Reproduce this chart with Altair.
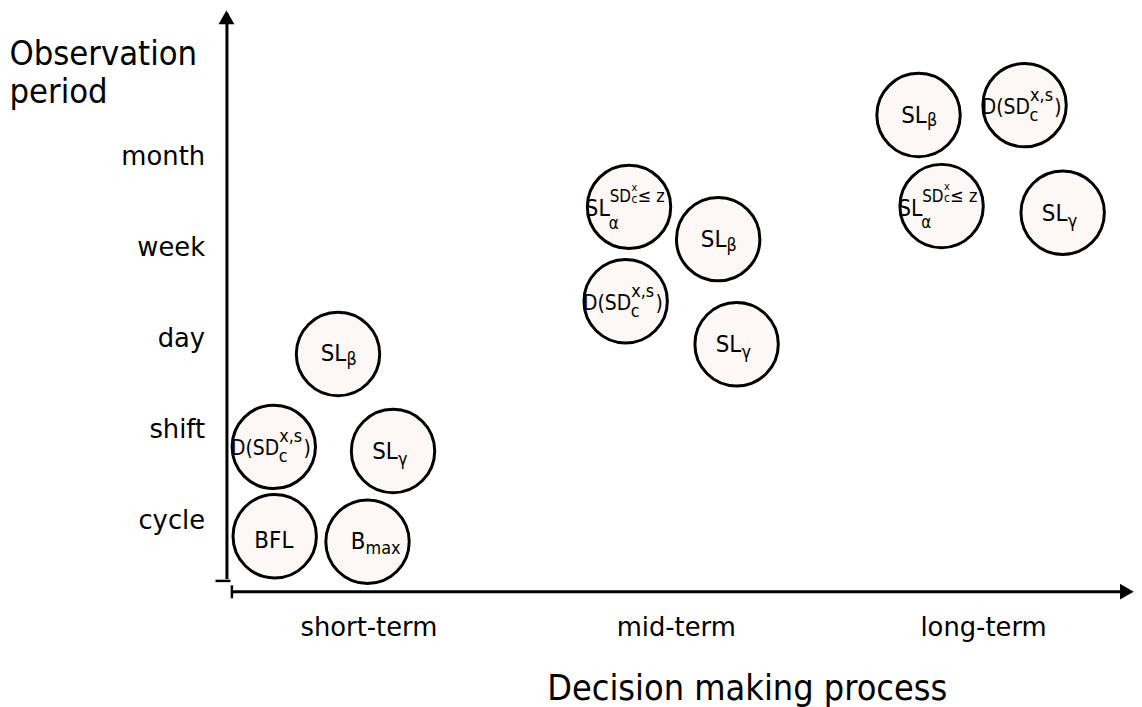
import json
import altair as alt
import pandas as pd

# ---------------- data ----------------
PERIODS = ["cycle", "shift", "day", "week", "month"]          # y categories (0..4)
HORIZONS = ["short-term", "mid-term", "long-term"]             # x categories (0..2)

GROUP = ["short-term"] * 5 + ["mid-term"] * 4 + ["long-term"] * 4
LABEL = [
    "SL_β", "D(SD_c^x,s)", "SL_γ", "BFL", "B_max",
    "SL_α^(SD_c^x≤z)", "SL_β", "D(SD_c^x,s)", "SL_γ",
    "SL_β", "D(SD_c^x,s)", "SL_α^(SD_c^x≤z)", "SL_γ",
]
# position along the decision-horizon axis (0 = short, 1 = mid, 2 = long)
HORIZON_POS = [-0.099, -0.308, 0.080, -0.305, -0.003,
               0.848, 1.138, 0.837, 1.198,
               1.790, 2.135, 1.865, 2.259]
# position along the observation-period axis (0 = cycle ... 4 = month)
PERIOD_POS = [1.831, 0.812, 0.766, -0.169, -0.229,
              3.446, 3.092, 2.411, 1.938,
              4.454, 4.563, 3.455, 3.382]

# ---------------- styling ----------------
FONT = "DejaVu Sans"
CFONT = "'DejaVu Sans Condensed', 'DejaVu Sans'"
FILL = "#fdf7f5"

# typesetting of each label: (text, fontSize, dx, dy) relative to circle centre
TYPESET = {
    "SL_β": [("SL", 24, -17.5, 7.5), ("β", 18, 8.5, 11.5)],
    "SL_γ": [("SL", 24, -21, 8), ("γ", 18, 5, 14)],
    "BFL": [("BFL", 24, -20.5, 12)],
    "B_max": [("B", 24, -17, 7.5), ("max", 18, -2, 12)],
    "D(SD_c^x,s)": [("D(SD", 21, -43, 8.5), ("c", 18, 5, 15.5),
                    ("x,s", 18, 5.5, -4.5), (")", 21, 30, 8.5)],
    "SL_α^(SD_c^x≤z)": [("SL", 23, -44, 9.5), ("α", 17, -20.5, 22.5),
                        ("SD", 17, -19.5, -4.5), ("x", 11, 2.5, -16.5),
                        ("c", 12, 2.5, -4), ("≤", 18, 8.5, -4.5),
                        ("z", 18, 27.5, -4.5)],
}

df = pd.DataFrame({"horizon": GROUP, "label": LABEL,
                   "h": HORIZON_POS, "p": PERIOD_POS})
one = pd.DataFrame({"k": [0]})

W, H = 913, 570
xscale = alt.Scale(domain=[-0.46204, 2.48788], nice=False, zero=False)
yscale = alt.Scale(domain=[-0.63215, 5.58038], nice=False, zero=False)

xaxis = alt.Axis(
    values=[0, 1, 2],
    labelExpr=json.dumps(HORIZONS) + "[datum.value]",
    ticks=False, tickSize=0, domain=False, grid=False, offset=13,
    labelFont=FONT, labelFontSize=26, labelColor="black",
    labelPadding=36, labelBaseline="middle", labelFlush=False, labelOverlap=False,
    title="Decision making process", titleFont=CFONT, titleFontSize=36,
    titleFontWeight="normal", titleColor="black",
    titleX=524, titleY=109, titleAlign="center", titleBaseline="alphabetic",
)
yaxis = alt.Axis(
    values=[0, 1, 2, 3, 4],
    labelExpr=json.dumps(PERIODS) + "[datum.value]",
    ticks=False, tickSize=0, domain=True, domainColor="black", domainWidth=3,
    grid=False, labelFont=FONT, labelFontSize=26, labelColor="black",
    labelPadding=22, labelFlush=False, labelOverlap=False,
    title=["Observation", "period"], titleFont=CFONT, titleFontSize=34.5,
    titleFontWeight="normal", titleColor="black", titleAngle=0,
    titleAlign="left", titleBaseline="alphabetic", titleX=-219, titleY=52,
    titleLineHeight=39,
)

base = alt.Chart(df).encode(
    x=alt.X("h:Q", scale=xscale, axis=xaxis),
    y=alt.Y("p:Q", scale=yscale, axis=yaxis),
)

circles = base.mark_circle(size=7056, fill=FILL, stroke="black",
                           strokeWidth=3, opacity=1, fillOpacity=1)

texts = []
for key, pieces in TYPESET.items():
    for txt, fs, dx, dy in pieces:
        texts.append(
            base.transform_filter(alt.datum.label == key).mark_text(
                text=txt, fontSize=fs, dx=dx, dy=dy, align="left",
                baseline="alphabetic", font=CFONT, color="black")
        )

# axis decorations (arrows and end caps)
ycap = alt.Chart(one).mark_rule(color="black", strokeWidth=2.5).encode(
    x=alt.value(-11), x2=alt.value(4), y=alt.value(572.5))
xline = alt.Chart(one).mark_rule(color="black", strokeWidth=3).encode(
    x=alt.value(5), x2=alt.value(906), y=alt.value(583.3))
xcap = alt.Chart(one).mark_rule(color="black", strokeWidth=2.5).encode(
    x=alt.value(5.5), y=alt.value(577), y2=alt.value(590))
arrow_up = alt.Chart(one).mark_point(shape="triangle-up", filled=True,
                                     color="black", size=256, opacity=1).encode(
    x=alt.value(0), y=alt.value(5))
arrow_right = alt.Chart(one).mark_point(shape="triangle-right", filled=True,
                                        color="black", size=256, opacity=1).encode(
    x=alt.value(906.8), y=alt.value(583.3))

chart = alt.layer(circles, *texts, ycap, xline, xcap, arrow_up, arrow_right).properties(
    width=W, height=H,
    background="white",
    autosize=alt.AutoSizeParams(type="none"),
    padding={"left": 220, "top": 2, "right": 1, "bottom": 127},
).configure_view(strokeWidth=0)

chart.save("out.html", embed_options={"renderer": "svg", "actions": False})
